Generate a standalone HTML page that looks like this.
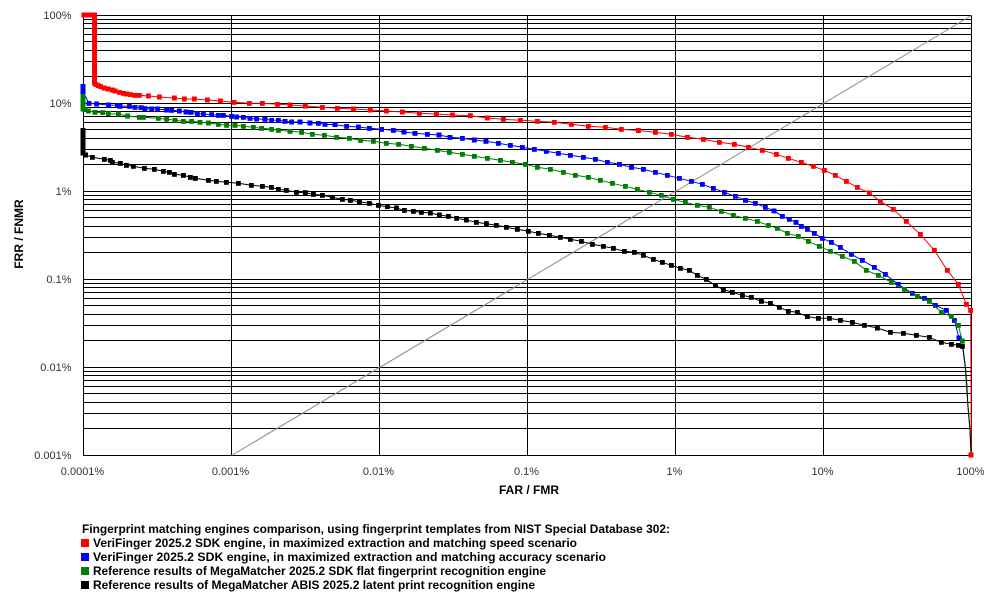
<!DOCTYPE html>
<html>
<head>
<meta charset="utf-8">
<style>
html,body{margin:0;padding:0;background:#fff;}
svg{display:block;}
text{font-family:"Liberation Sans",Arial,sans-serif;}
.tk{font-size:11px;fill:#333;}
.b{font-size:12px;font-weight:bold;fill:#000;}
</style>
</head>
<body>
<svg width="1005" height="600" viewBox="0 0 1005 600" xmlns="http://www.w3.org/2000/svg">
<defs>
<marker id="mr" markerWidth="5" markerHeight="5" refX="2.5" refY="2.5" markerUnits="userSpaceOnUse"><rect width="5" height="5" fill="#ff0000"/></marker>
<marker id="mb" markerWidth="5" markerHeight="5" refX="2.5" refY="2.5" markerUnits="userSpaceOnUse"><rect width="5" height="5" fill="#0000ff"/></marker>
<marker id="mg" markerWidth="5" markerHeight="5" refX="2.5" refY="2.5" markerUnits="userSpaceOnUse"><rect width="5" height="5" fill="#008000"/></marker>
<marker id="mk" markerWidth="5" markerHeight="5" refX="2.5" refY="2.5" markerUnits="userSpaceOnUse"><rect width="5" height="5" fill="#000000"/></marker>
</defs>
<rect width="1005" height="600" fill="#fff"/>

<!-- horizontal gridlines -->
<g stroke="#000" stroke-width="1" shape-rendering="crispEdges">
<path d="M83 15.5H971 M83 103.5H971 M83 191.5H971 M83 279.5H971 M83 367.5H971 M83 455.5H971
M83 428.5H971 M83 413.5H971 M83 402.5H971 M83 393.5H971 M83 386.5H971 M83 380.5H971 M83 375.5H971 M83 371.5H971
M83 340.5H971 M83 325.5H971 M83 314.5H971 M83 305.5H971 M83 298.5H971 M83 292.5H971 M83 287.5H971 M83 283.5H971
M83 252.5H971 M83 237.5H971 M83 226.5H971 M83 217.5H971 M83 210.5H971 M83 204.5H971 M83 199.5H971 M83 195.5H971
M83 164.5H971 M83 149.5H971 M83 138.5H971 M83 129.5H971 M83 122.5H971 M83 116.5H971 M83 111.5H971 M83 107.5H971
M83 76.5H971 M83 61.5H971 M83 50.5H971 M83 41.5H971 M83 34.5H971 M83 28.5H971 M83 23.5H971 M83 19.5H971"/>
<path d="M83.5 15V456 M231.5 15V456 M379.5 15V456 M527.5 15V456 M675.5 15V456 M823.5 15V456 M971.5 15V456"/>
</g>

<!-- diagonal -->
<line x1="231.5" y1="455.5" x2="971.5" y2="15.5" stroke="#8a8a8a" stroke-width="1"/>

<!-- tick labels -->
<g class="tk" text-anchor="end">
<text x="71.5" y="19">100%</text>
<text x="71.5" y="107">10%</text>
<text x="71.5" y="195">1%</text>
<text x="71.5" y="283">0.1%</text>
<text x="71.5" y="371">0.01%</text>
<text x="71.5" y="459">0.001%</text>
</g>
<g class="tk" text-anchor="middle">
<text x="82.5" y="475">0.0001%</text>
<text x="230.5" y="475">0.001%</text>
<text x="378.5" y="475">0.01%</text>
<text x="526.5" y="475">0.1%</text>
<text x="674.5" y="475">1%</text>
<text x="822.5" y="475">10%</text>
<text x="970.5" y="475">100%</text>
</g>
<text class="b" x="529" y="494" text-anchor="middle">FAR / FMR</text>
<text class="b" text-anchor="middle" transform="translate(23,234) rotate(-90)">FRR / FNMR</text>

<!-- red series -->
<g fill="none" stroke="#ff0000" stroke-width="1">
<polyline marker-start="url(#mr)" marker-mid="url(#mr)" marker-end="url(#mr)" points="84,15 86,15 88,15 90,15 92,15 94.5,15 94.5,18 94.5,21 94.5,24 94.5,27 94.5,30 94.5,33 94.5,36 94.5,39 94.5,42 94.5,45 94.5,48 94.5,51 94.5,54 94.5,57 94.5,60 94.5,63 94.5,66 94.5,69 94.5,72 94.5,75 94.5,78 94.5,81 94.5,83 96,84.7 98.3,85.7 100.7,86.7 104,88 108,89 112.3,90 115,91 119.3,92.3 123.3,93.3 126.7,94 130.7,94.7 135,95.3 139.3,95.3 148.3,96 159.3,97 174.3,98 184.3,99 194.3,99 207.3,100 220.3,101 234,102.3 249.3,103.3 262.3,103.3 277.3,104.3 290,105 305.3,106 322.3,107.3 337.3,108.3 353.3,109 370.3,110 386.3,111 402.3,112 419.3,113.3 436.3,114 452.3,115 470.3,115.7 487.3,118 503.3,119.3 520.3,120.3 537.3,121.3 554.3,122.3 571.3,124.3 588.3,126.3 605.3,127.3 621.3,129.3 638.3,130.5 655.3,132.3 671.3,134.3 687.3,137.3 703.3,139.3 719.3,142.3 734.3,144.3 748.3,147.3 762.3,150.3 776.3,154.3 788.3,158.3 801.3,162.3 813.3,166.3 824.3,170.3 835.3,175.3 846.3,181.3 857.3,187.3 869.3,193 880.3,201.3 893.3,209.3 906.3,221.3 920.3,234.3 934.3,250.3 947.3,270.3 958.3,284.3 966.3,304.3 970.7,310.3"/>
<polyline points="970.7,310.3 971.3,455"/>
</g>

<!-- blue series -->
<g fill="none" stroke="#0000ff" stroke-width="1">
<polyline marker-start="url(#mb)" marker-mid="url(#mb)" marker-end="url(#mb)" points="83,86.5 83,89 83,91.5 89,103.3 96.7,104 108.7,105 117.3,105.3 120,106.3 129.3,106.3 135,107.3 141,107.7 145,108.7 151.7,109 157.7,109 166.7,110 171.7,110.3 179.3,111 186,112 191,112.3 197.3,113.7 203.3,114 211.7,114.7 218.3,115.3 223.3,115.3 231.7,116.3 236.7,117 243.3,117.3 250,118.3 256.7,119 265,119.3 271.7,120.3 278.3,120.3 285,121.3 291.7,122 300,122 310,123 318.3,123.3 325,124.3 335,124.7 346.7,126.3 358.3,127 369.3,128.3 381.7,129.3 393.3,130.3 404,132 415,133.3 427.3,134.3 439,135 450,137.3 462.3,138.3 474.3,140 486,141.3 498.3,143.3 510.3,145.3 522.3,147.3 534.3,149.3 546.3,151.3 558.3,153.3 570.3,155.3 583.3,157.3 595.3,159.3 607.3,162.3 619.5,164.3 631.5,167.3 643.3,169.3 655.3,172.3 667.3,175.3 679.3,178.3 691.3,181.3 702.3,184.3 713.3,188.3 724.3,192.3 735.3,196.3 745.5,200.3 755.3,203.3 765.3,207.3 774,210.8 782.3,216.3 789.3,219.3 796,222.3 801.3,226.3 807.3,229.3 814.3,233.3 822.3,238.3 831.3,242.3 840.3,247.3 851.3,254.3 862.3,260.3 874.3,267.3 885.3,274.3 898.3,284.3 912.3,293.3 924.3,298.3 935.3,305.3 946.3,310.3 954.3,320.3 959,338"/>
</g>

<!-- green series -->
<g fill="none" stroke="#008000" stroke-width="1">
<polyline marker-start="url(#mg)" marker-mid="url(#mg)" marker-end="url(#mg)" points="83,96.5 83,99 83,101.5 83,104 83,106.5 83,109 85,109.3 88.3,111 95,112.3 102.7,112.7 108.3,113.7 118.3,114 127.7,116 139.3,117.3 143.3,117.3 158.3,118.3 166.7,119.3 175,120.3 183.3,121.3 191.7,121.3 200,122.3 208.3,123 218.3,124.3 226.7,125.3 235,125.3 243.3,126.3 253.3,127.3 261.7,128.3 271.7,129.3 278.3,130.3 290,131.3 301.7,132.3 312.3,134.3 324.3,135.3 336.7,137.3 349.3,138.3 360.7,140.3 373.3,141.3 386.3,143.3 398.7,144.3 411.3,146.3 424.3,148.3 437.3,150.3 449.3,152.3 462.3,154.3 474.3,156.3 487.3,158.3 500.3,160.3 512.3,162.3 525.3,164.3 537.3,167.3 550.3,169.3 563.3,172.3 575.3,175.3 588.3,177.3 600.3,180.3 612.3,183.3 625.3,186.3 637.3,189.3 649.3,192.3 661.3,195.3 673.3,199.3 685.3,202.3 697.3,205.3 709.3,207.3 721.3,211.3 733.3,215.3 745.3,218.3 757.3,221.3 768.3,225.3 777.3,228.3 787.3,233.3 798.3,236.3 808.3,241.3 819.3,246.3 830.3,251.3 842.3,256.3 854.3,261.3 866.3,270.3 878.3,275.3 891.3,282.3 904.3,289.3 917.3,296.3 929.3,301.3 941.3,312.3 951.3,316.3 958.3,325.3 962.3,341"/>
<polyline points="962.3,341 963.3,350 965,363 966.7,390 968.3,410 970,430 971,450"/>
</g>

<!-- black series -->
<g fill="none" stroke="#000" stroke-width="1">
<polyline marker-start="url(#mk)" marker-mid="url(#mk)" marker-end="url(#mk)" points="83,130.5 83,133 83,135.5 83,138 83,140.5 83,143 83,145.5 83,148 83,150.5 83,153 85.7,155 92.3,157.3 104.3,159.3 110.3,160.3 112.3,162.3 120.3,163.3 126.3,165.3 133.3,166.3 144.3,168.3 154.3,169.3 163.3,171.3 169.3,172.3 174.3,174.3 183.3,175.3 190.3,177.3 195.3,178.3 208.3,180.3 216.3,181.3 226.3,182.3 238.3,183.3 251.3,185.3 262.3,186.3 271.3,187.3 278.3,189.3 286.3,190.3 296.3,192.3 305.3,192.7 313.3,194.3 322.3,195.3 332.3,197.3 342.3,199.3 350.3,200.3 359.3,201.7 369.3,203.3 378.3,205.3 387.3,206.7 396.3,208 404.3,210.3 413.3,211.3 421.3,212.3 430.3,213 439.3,215 448.3,216.3 456.7,218.3 466.3,220 476.3,222.3 486.3,223.7 496.3,225.3 506.3,227.3 517.3,229.3 528.3,231.3 538.3,233.3 549.3,235.3 560.3,237.3 570.3,239.3 581.3,241.3 592.3,244.3 603.3,246.3 613.3,248.3 624.3,251.3 634.3,252.3 643.3,255.3 653.3,259.3 662.3,262.3 671.3,265.3 680.3,268.3 689.3,270.3 697.3,275.3 706.3,279.3 715.3,285.7 723.3,289.5 732.3,292.3 742.3,295.3 751.3,297.3 761.3,301.3 770.3,303.3 779.3,307.3 788.3,311.3 797.3,312.3 807.3,316.7 818.3,318.3 829.3,318.3 840.3,320.3 852.3,322.3 864.3,325.3 877.3,328 890.3,332.3 903.3,333.3 916.3,335.3 929.3,337.3 941.3,342.3 951.3,344.3 958.3,345.3 962.3,346.3"/>
<polyline points="962.3,346.3 963,350 965.7,370 966.7,383 968,407 970,430 970.7,447 971,455"/>
</g>
<rect x="968.5" y="452.5" width="5" height="5" fill="#ff0000"/>

<!-- legend -->
<text class="b" x="82" y="533" textLength="588" lengthAdjust="spacingAndGlyphs">Fingerprint matching engines comparison, using fingerprint templates from NIST Special Database 302:</text>
<rect x="81" y="539" width="8" height="8" fill="#ff0000"/>
<text class="b" x="93" y="547" textLength="484" lengthAdjust="spacingAndGlyphs">VeriFinger 2025.2 SDK engine, in maximized extraction and matching speed scenario</text>
<rect x="81" y="553" width="8" height="8" fill="#0000ff"/>
<text class="b" x="93" y="561" textLength="513" lengthAdjust="spacingAndGlyphs">VeriFinger 2025.2 SDK engine, in maximized extraction and matching accuracy scenario</text>
<rect x="81" y="567" width="8" height="8" fill="#008000"/>
<text class="b" x="93" y="575" textLength="453" lengthAdjust="spacingAndGlyphs">Reference results of MegaMatcher 2025.2 SDK flat fingerprint recognition engine</text>
<rect x="81" y="581" width="8" height="8" fill="#000"/>
<text class="b" x="93" y="589" textLength="442" lengthAdjust="spacingAndGlyphs">Reference results of MegaMatcher ABIS 2025.2 latent print recognition engine</text>
</svg>
</body>
</html>
